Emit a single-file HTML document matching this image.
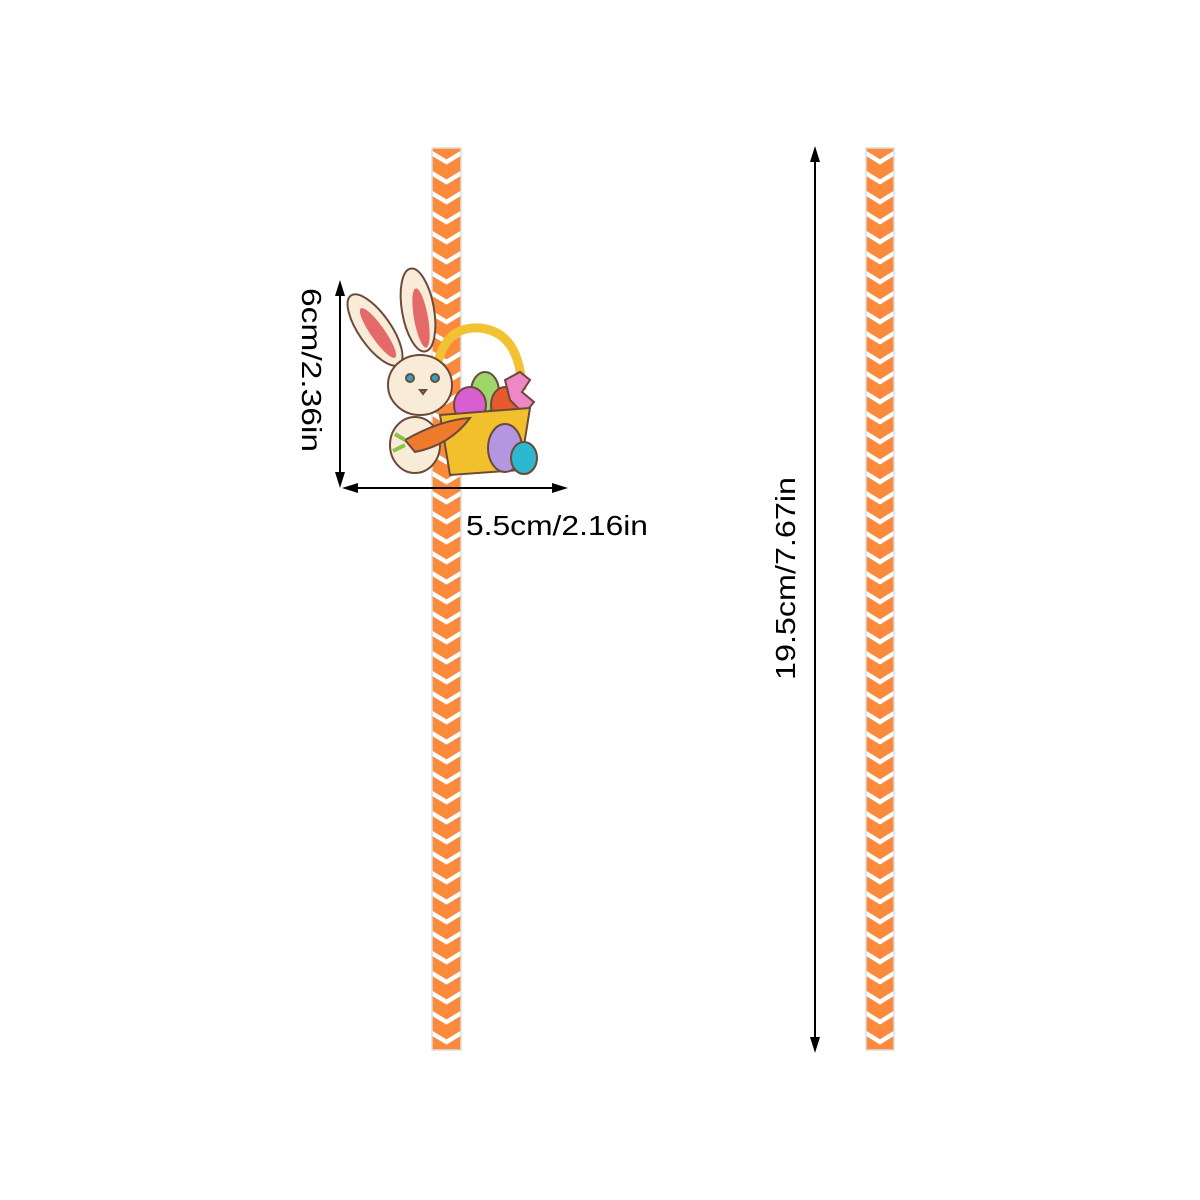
<!DOCTYPE html>
<html><head><meta charset="utf-8"><style>html,body{margin:0;padding:0;background:#fff}svg{display:block}</style></head>
<body>
<svg width="1200" height="1200" viewBox="0 0 1200 1200" xmlns="http://www.w3.org/2000/svg">
<defs>
<pattern id="chev2" x="866" y="148" width="28" height="20" patternUnits="userSpaceOnUse">
<rect width="28" height="20" fill="#fb8a3c"/>
<polyline points="-2,4 14,14 30,4" fill="none" stroke="#fff" stroke-width="4.5"/>
</pattern>
<pattern id="chev1" x="432" y="148" width="29" height="20" patternUnits="userSpaceOnUse">
<rect width="29" height="20" fill="#fb8a3c"/>
<polyline points="-2,4 14.5,14 31,4" fill="none" stroke="#fff" stroke-width="4.5"/>
</pattern>
</defs>
<rect width="1200" height="1200" fill="#fff"/>
<rect x="432" y="148" width="29" height="902" fill="url(#chev1)" stroke="#ddd" stroke-width="1.5"/>
<rect x="866" y="148" width="28" height="902" fill="url(#chev2)" stroke="#ddd" stroke-width="1.5"/>

<g stroke="#6b4a3a" stroke-width="2">
<path d="M435,380 Q440,325 480,328 Q520,332 522,390" fill="none" stroke="#f1c232" stroke-width="9"/>
<ellipse cx="485" cy="392" rx="14" ry="20" fill="#9fd66b"/>
<ellipse cx="470" cy="405" rx="16" ry="18" fill="#d85fd0"/>
<ellipse cx="505" cy="405" rx="14" ry="18" fill="#e85a2c"/>
<path d="M505,380 l15,-8 l10,8 l-8,12 l12,10 l-10,12 l-14,-14 Z" fill="#ef86c6"/>
<path d="M440,415 L530,408 L520,470 L450,475 Z" fill="#f2c02c"/>
<ellipse cx="505" cy="448" rx="17" ry="24" fill="#b395e0"/>
<ellipse cx="524" cy="458" rx="13" ry="16" fill="#2cb8cf"/>
<ellipse cx="375" cy="330" rx="16" ry="42" transform="rotate(-35 375 330)" fill="#f8ecd8"/>
<ellipse cx="378" cy="333" rx="7" ry="30" transform="rotate(-35 378 333)" fill="#e46a6a" stroke="none"/>
<ellipse cx="418" cy="310" rx="16" ry="42" transform="rotate(-10 418 310)" fill="#f8ecd8"/>
<ellipse cx="421" cy="318" rx="7" ry="30" transform="rotate(-10 421 318)" fill="#e46a6a" stroke="none"/>
<ellipse cx="415" cy="445" rx="25" ry="28" fill="#f8ecd8"/>
<ellipse cx="420" cy="385" rx="32" ry="30" fill="#f8ecd8"/>
<circle cx="410" cy="378" r="4" fill="#2aa6c8"/>
<circle cx="435" cy="378" r="4" fill="#2aa6c8"/>
<path d="M420,390 l6,0 l-3,4 z" fill="#ef7a8a"/>
<path d="M405,440 Q440,420 470,418 Q450,445 415,452 Z" fill="#f07a2c"/>
<path d="M405,440 l-10,-6 M405,445 l-12,6" stroke="#8bc34a" stroke-width="4"/>
</g>

<g stroke="#000" stroke-width="2" fill="#000">
<line x1="340" y1="292" x2="340" y2="476"/>
<polygon points="340,280 335,296 345,296" stroke="none"/>
<polygon points="340,488 335,472 345,472" stroke="none"/>
<line x1="354" y1="488" x2="556" y2="488"/>
<polygon points="342,488 358,483 358,493" stroke="none"/>
<polygon points="568,488 552,483 552,493" stroke="none"/>
<line x1="815" y1="160" x2="815" y2="1040"/>
<polygon points="815,146 810,162 820,162" stroke="none"/>
<polygon points="815,1053 810,1037 820,1037" stroke="none"/>
</g>

<g font-family="'Liberation Sans', 'DejaVu Sans', sans-serif" font-size="28" fill="#000">
<text transform="translate(302,288) rotate(90)" textLength="164" lengthAdjust="spacingAndGlyphs">6cm/2.36in</text>
<text x="466" y="535" textLength="182" lengthAdjust="spacingAndGlyphs">5.5cm/2.16in</text>
<text transform="translate(795,680) rotate(-90)" textLength="203" lengthAdjust="spacingAndGlyphs">19.5cm/7.67in</text>
</g>
</svg>
</body></html>
